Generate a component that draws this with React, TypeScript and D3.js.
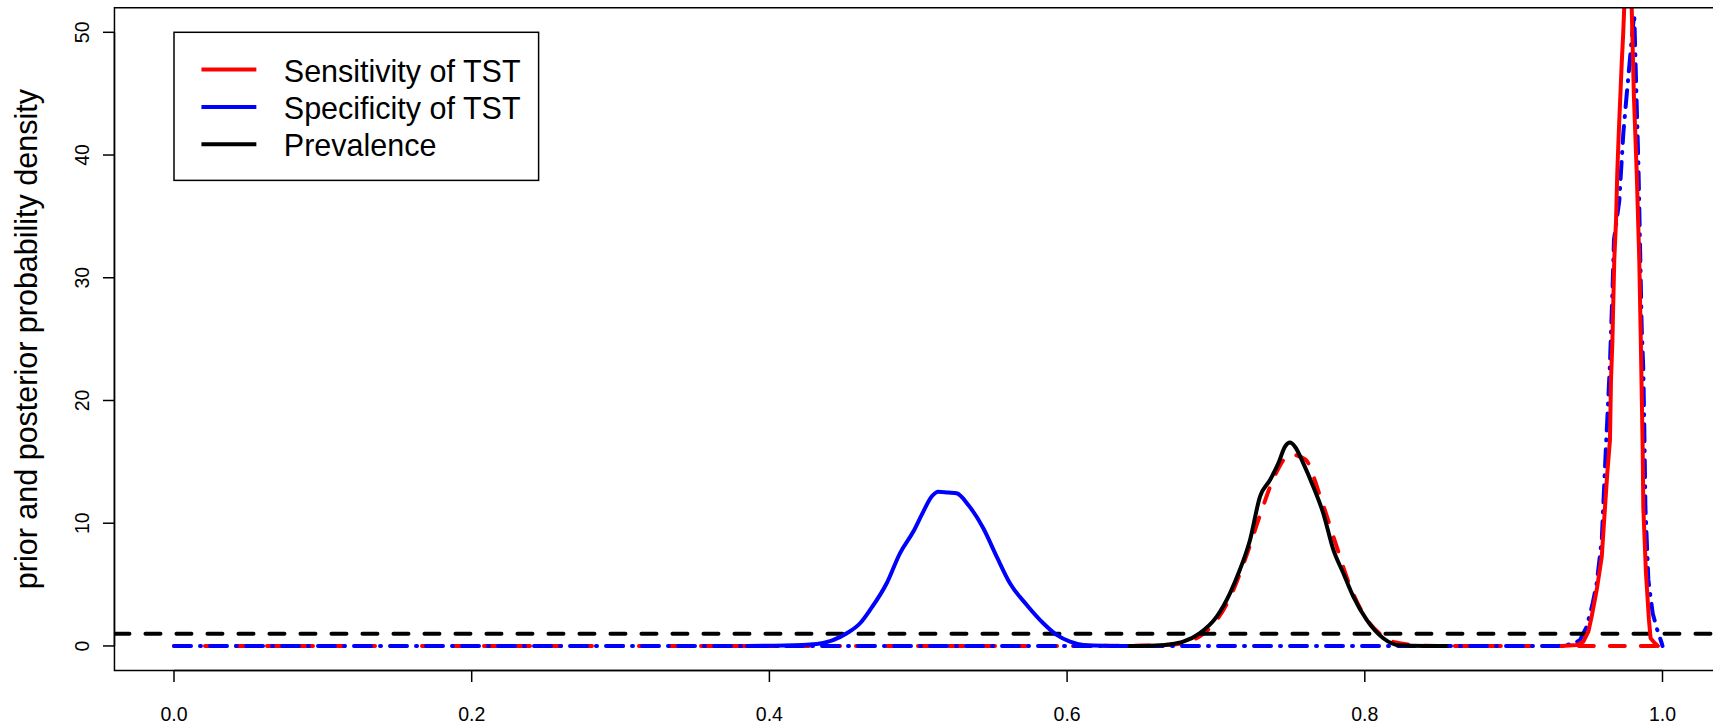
import React from "react";
import * as d3 from "d3";

// ---- data ----
const xTicks = [0.0, 0.2, 0.4, 0.6, 0.8, 1.0];
const yTicks = [0, 10, 20, 30, 40, 50];
const legendLabels = ["Sensitivity of TST", "Specificity of TST", "Prevalence"];
const legendColors = ["#ff0000", "#0000ff", "#000000"];

// Sensitivity posterior (red solid)
const sensPostX = [0.9323, 0.9424, 0.9468, 0.9502, 0.9524, 0.9558, 0.9592, 0.9614, 0.9629, 0.9647, 0.9654, 0.9663, 0.9676, 0.9688, 0.9696, 0.9707, 0.9726, 0.9736, 0.9743, 0.9765, 0.9793, 0.9808, 0.9827, 0.9838, 0.9844, 0.9853, 0.9867, 0.9871, 0.9889, 0.9909, 0.992, 0.9949, 0.9969];
const sensPostY = [0, 0.08, 0.35, 1.17, 2.39, 4.56, 7.28, 11.35, 14.07, 16.78, 21.67, 24.66, 31.45, 34.7, 38.5, 42.04, 47.47, 49.9, 52.06, 56, 52.06, 44.75, 38.5, 33.9, 31.45, 25.75, 16.0, 11.35, 5.92, 2.12, 0.63, 0.22, 0];

// Sensitivity prior (red dashed)
const sensPriorX = [0, 0.6, 0.65, 0.67, 0.68, 0.69, 0.70, 0.71, 0.72, 0.73, 0.74, 0.75, 0.76, 0.77, 0.78, 0.79, 0.80, 0.81, 0.82, 0.84, 0.86, 1.0];
const sensPriorY = [0, 0, 0.03, 0.09, 0.31, 0.87, 2.03, 4.1, 7.2, 10.8, 14.0, 15.6, 15.2, 12.2, 8.5, 4.9, 2.4, 1.0, 0.3, 0.02, 0, 0];

// Specificity posterior (blue solid)
const specPostX = [0.385, 0.41, 0.4318, 0.452, 0.4609, 0.4676, 0.4788, 0.4877, 0.4967, 0.5034, 0.509, 0.5135, 0.52, 0.5258, 0.5336, 0.5437, 0.5527, 0.5616, 0.5729, 0.584, 0.593, 0.602, 0.611, 0.625, 0.645];
const specPostY = [0, 0.03, 0.16, 1.03, 1.85, 2.93, 5.11, 7.55, 9.32, 10.95, 12.17, 12.57, 12.5, 12.44, 11.49, 9.59, 7.28, 5.11, 3.34, 1.85, 0.9, 0.35, 0.08, 0.01, 0];

// Specificity prior (blue dot-dash)
const specPriorX = [0, 0.93, 0.9401, 0.9446, 0.9491, 0.9531, 0.9558, 0.9592, 0.962, 0.9629, 0.9647, 0.9665, 0.9674, 0.971, 0.9719, 0.9737, 0.976, 0.9773, 0.9787, 0.9803, 0.981, 0.9827, 0.9838, 0.986, 0.9871, 0.9878, 0.9885, 0.9905, 0.9934, 0.9965, 0.9995, 1.0];
const specPriorY = [0, 0, 0.16, 0.49, 1.57, 3.48, 5.1, 8.64, 16.2, 18.4, 23.0, 29.3, 33.1, 36.3, 38.2, 41.8, 45.0, 46.7, 48.6, 50.7, 51.5, 43.9, 39.3, 26.0, 22.5, 17.5, 11.35, 5.38, 2.66, 1.3, 0.22, 0];

// Prevalence posterior (black solid)
const prevPostX = [0.642, 0.6557, 0.668, 0.678, 0.689, 0.7005, 0.7094, 0.716, 0.7229, 0.7296, 0.7363, 0.7419, 0.7464, 0.7497, 0.7531, 0.7587, 0.7654, 0.7721, 0.7789, 0.7856, 0.7923, 0.8013, 0.8124, 0.8237, 0.84, 0.855];
const prevPostY = [0, 0.02, 0.12, 0.35, 1.03, 2.39, 4.29, 6.19, 8.64, 12.17, 13.52, 14.88, 16.24, 16.57, 16.24, 14.88, 12.98, 10.81, 7.82, 5.92, 4.02, 2.12, 0.63, 0.05, 0, 0];

// Prevalence prior (uniform, black dashed horizontal line)
const prevPriorDensity = 1;

// legend anchor in data coordinates (top-left corner)
const legendAnchor = [0, 50];

const W = 1713;
const H = 727;
const FONT = "'Liberation Sans', Arial, Helvetica, sans-serif";

export default function App() {
  const x = d3.scaleLinear().domain([-0.04, 1.04]).range([114.46, 1722.04]);
  const y = d3.scaleLinear().domain([-2, 52]).range([670.5, 7.75]);

  const line = (xs: number[], ys: number[], curve: any) =>
    d3
      .line<number>()
      .x((_, i) => x(xs[i]))
      .y((d) => y(d))
      .curve(curve)(ys) as string;

  const plotLeft = x(-0.04);
  const plotRight = x(1.04);
  const plotTop = y(52);
  const plotBottom = y(-2);

  const lw = 4;

  // legend geometry (R-like: yc line height, xc char width)
  const lgLeft = x(legendAnchor[0]);
  const lgTop = y(legendAnchor[1]);
  const yc = 37.3;
  const xc = 27.45;
  const lgFs = 30.5;
  const lgRight = 538.6;
  const lgBottom = lgTop + 3.97 * yc;

  return (
    <svg
      width={W}
      height={H}
      style={{ position: "absolute", left: 0, top: 0, background: "#fff" }}
      fontFamily={FONT}
    >
      <defs>
        <clipPath id="plotclip">
          <rect x={plotLeft} y={plotTop} width={plotRight - plotLeft} height={plotBottom - plotTop} />
        </clipPath>
      </defs>
      <rect x={0} y={0} width={W} height={H} fill="#fff" />

      <g clipPath="url(#plotclip)" fill="none" strokeLinejoin="round">
        {/* priors */}
        <path
          d={line(sensPriorX, sensPriorY, d3.curveMonotoneX)}
          stroke="#ff0000"
          strokeWidth={lw}
          strokeDasharray="15 16"
          strokeLinecap="round"
        />
        <path
          d={line(specPriorX, specPriorY, d3.curveLinear)}
          stroke="#0000ff"
          strokeWidth={lw}
          strokeDasharray="17 9 1 9"
          strokeLinecap="round"
        />
        <line
          x1={plotLeft}
          x2={plotRight}
          y1={y(prevPriorDensity)}
          y2={y(prevPriorDensity)}
          stroke="#000"
          strokeWidth={lw}
          strokeDasharray="15 16"
          strokeLinecap="round"
        />
        {/* posteriors */}
        <path d={line(specPostX, specPostY, d3.curveMonotoneX)} stroke="#0000ff" strokeWidth={lw} strokeLinecap="round" />
        <path d={line(prevPostX, prevPostY, d3.curveMonotoneX)} stroke="#000" strokeWidth={lw} strokeLinecap="round" />
        <path d={line(sensPostX, sensPostY, d3.curveLinear)} stroke="#ff0000" strokeWidth={lw} strokeLinecap="round" />
      </g>

      {/* box */}
      <rect
        x={plotLeft}
        y={plotTop}
        width={plotRight - plotLeft}
        height={plotBottom - plotTop}
        fill="none"
        stroke="#000"
        strokeWidth={1.5}
      />

      {/* x axis */}
      <g>
        <line x1={x(0)} x2={x(1)} y1={plotBottom} y2={plotBottom} stroke="#000" strokeWidth={1.5} />
        {xTicks.map((t) => (
          <g key={t}>
            <line x1={x(t)} x2={x(t)} y1={plotBottom} y2={plotBottom + 11.5} stroke="#000" strokeWidth={1.5} />
            <text x={x(t)} y={720.5} fontSize={19.5} textAnchor="middle" fill="#000">
              {t.toFixed(1)}
            </text>
          </g>
        ))}
      </g>

      {/* y axis */}
      <g>
        <line x1={plotLeft} x2={plotLeft} y1={y(0)} y2={y(50)} stroke="#000" strokeWidth={1.5} />
        {yTicks.map((t) => (
          <g key={t}>
            <line x1={plotLeft - 11.5} x2={plotLeft} y1={y(t)} y2={y(t)} stroke="#000" strokeWidth={1.5} />
            <text
              transform={`translate(89,${y(t)}) rotate(-90)`}
              fontSize={19.5}
              textAnchor="middle"
              fill="#000"
            >
              {t}
            </text>
          </g>
        ))}
        <text
          transform={`translate(37,${(plotTop + plotBottom) / 2}) rotate(-90)`}
          fontSize={30.5}
          textAnchor="middle"
          fill="#000"
        >
          prior and posterior probability density
        </text>
      </g>

      {/* legend */}
      <g>
        <rect
          x={lgLeft}
          y={lgTop}
          width={lgRight - lgLeft}
          height={lgBottom - lgTop}
          fill="#fff"
          stroke="#000"
          strokeWidth={1.5}
        />
        {legendLabels.map((lab, i) => {
          const cy = lgTop + (i + 1) * yc;
          return (
            <g key={lab}>
              <line x1={lgLeft + xc} x2={lgLeft + 3 * xc} y1={cy} y2={cy} stroke={legendColors[i]} strokeWidth={lw} />
              <text x={lgLeft + 4 * xc} y={cy + 12} fontSize={lgFs} fill="#000">
                {lab}
              </text>
            </g>
          );
        })}
      </g>
    </svg>
  );
}
